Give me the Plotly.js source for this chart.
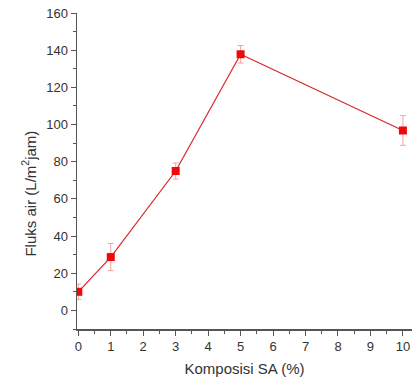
<!DOCTYPE html>
<html>
<head>
<meta charset="utf-8">
<script src="https://cdn.plot.ly/plotly-3.0.1.min.js"></script>
<style>
  html, body { margin: 0; padding: 0; background: #fff; }
  #chart { width: 416px; height: 382px; }
</style>
</head>
<body>
<div id="chart"></div>
<script>
// SA composition (%) and water flux (L/m²jam) with standard deviation
const komposisiSA = [0, 1, 3, 5, 10];
const fluksAir = [10, 28.7, 75, 137.8, 96.8];
const galat = [4.2, 7.3, 4.3, 4.7, 8];
const xTicks = [0, 1, 2, 3, 4, 5, 6, 7, 8, 9, 10];
const yTicks = [0, 20, 40, 60, 80, 100, 120, 140, 160];

const trace = {
  x: komposisiSA,
  y: fluksAir,
  type: 'scatter',
  mode: 'lines+markers',
  line: { color: '#d9262b', width: 1.2 },
  marker: { symbol: 'square', size: 8, color: '#ee0a0a' },
  error_y: { type: 'data', array: galat, visible: true, color: '#f0a4a4', thickness: 1, width: 3 },
  hoverinfo: 'skip'
};

const fontFamily = 'Liberation Sans, Arial, sans-serif';
const axisFont = { family: fontFamily, size: 13, color: '#333' };
const titleFont = { family: fontFamily, size: 15, color: '#333' };

const layout = {
  width: 416,
  height: 382,
  margin: { l: 77, r: 4, t: 13, b: 53 },
  paper_bgcolor: '#fff',
  plot_bgcolor: '#fff',
  showlegend: false,
  xaxis: {
    range: [-0.04, 10.28],
    tickvals: xTicks,
    ticktext: xTicks.map(String),
    ticks: 'outside',
    ticklen: 5,
    tickwidth: 1,
    tickcolor: '#555',
    minor: { dtick: 0.5, tick0: 0, ticks: 'outside', ticklen: 3, tickcolor: '#555' },
    showline: true,
    linecolor: '#555',
    linewidth: 1.5,
    showgrid: false,
    zeroline: false,
    tickfont: axisFont,
    title: { text: 'Komposisi SA (%)', font: titleFont, standoff: 10 }
  },
  yaxis: {
    range: [-10, 160],
    tickvals: yTicks,
    ticktext: yTicks.map(String),
    ticks: 'outside',
    ticklen: 5,
    tickwidth: 1,
    tickcolor: '#555',
    minor: { dtick: 10, tick0: 0, ticks: 'outside', ticklen: 3, tickcolor: '#555' },
    showline: true,
    linecolor: '#555',
    linewidth: 1.5,
    showgrid: false,
    zeroline: false,
    tickfont: axisFont
  },
  annotations: [{
    text: 'Fluks air (L/m<sup>2</sup>jam)',
    xref: 'paper', yref: 'paper',
    x: -0.145, y: 0.43,
    xanchor: 'center', yanchor: 'middle',
    textangle: -90,
    showarrow: false,
    font: titleFont
  }]
};

Plotly.newPlot('chart', [trace], layout, { staticPlot: true, displayModeBar: false });
</script>
</body>
</html>
